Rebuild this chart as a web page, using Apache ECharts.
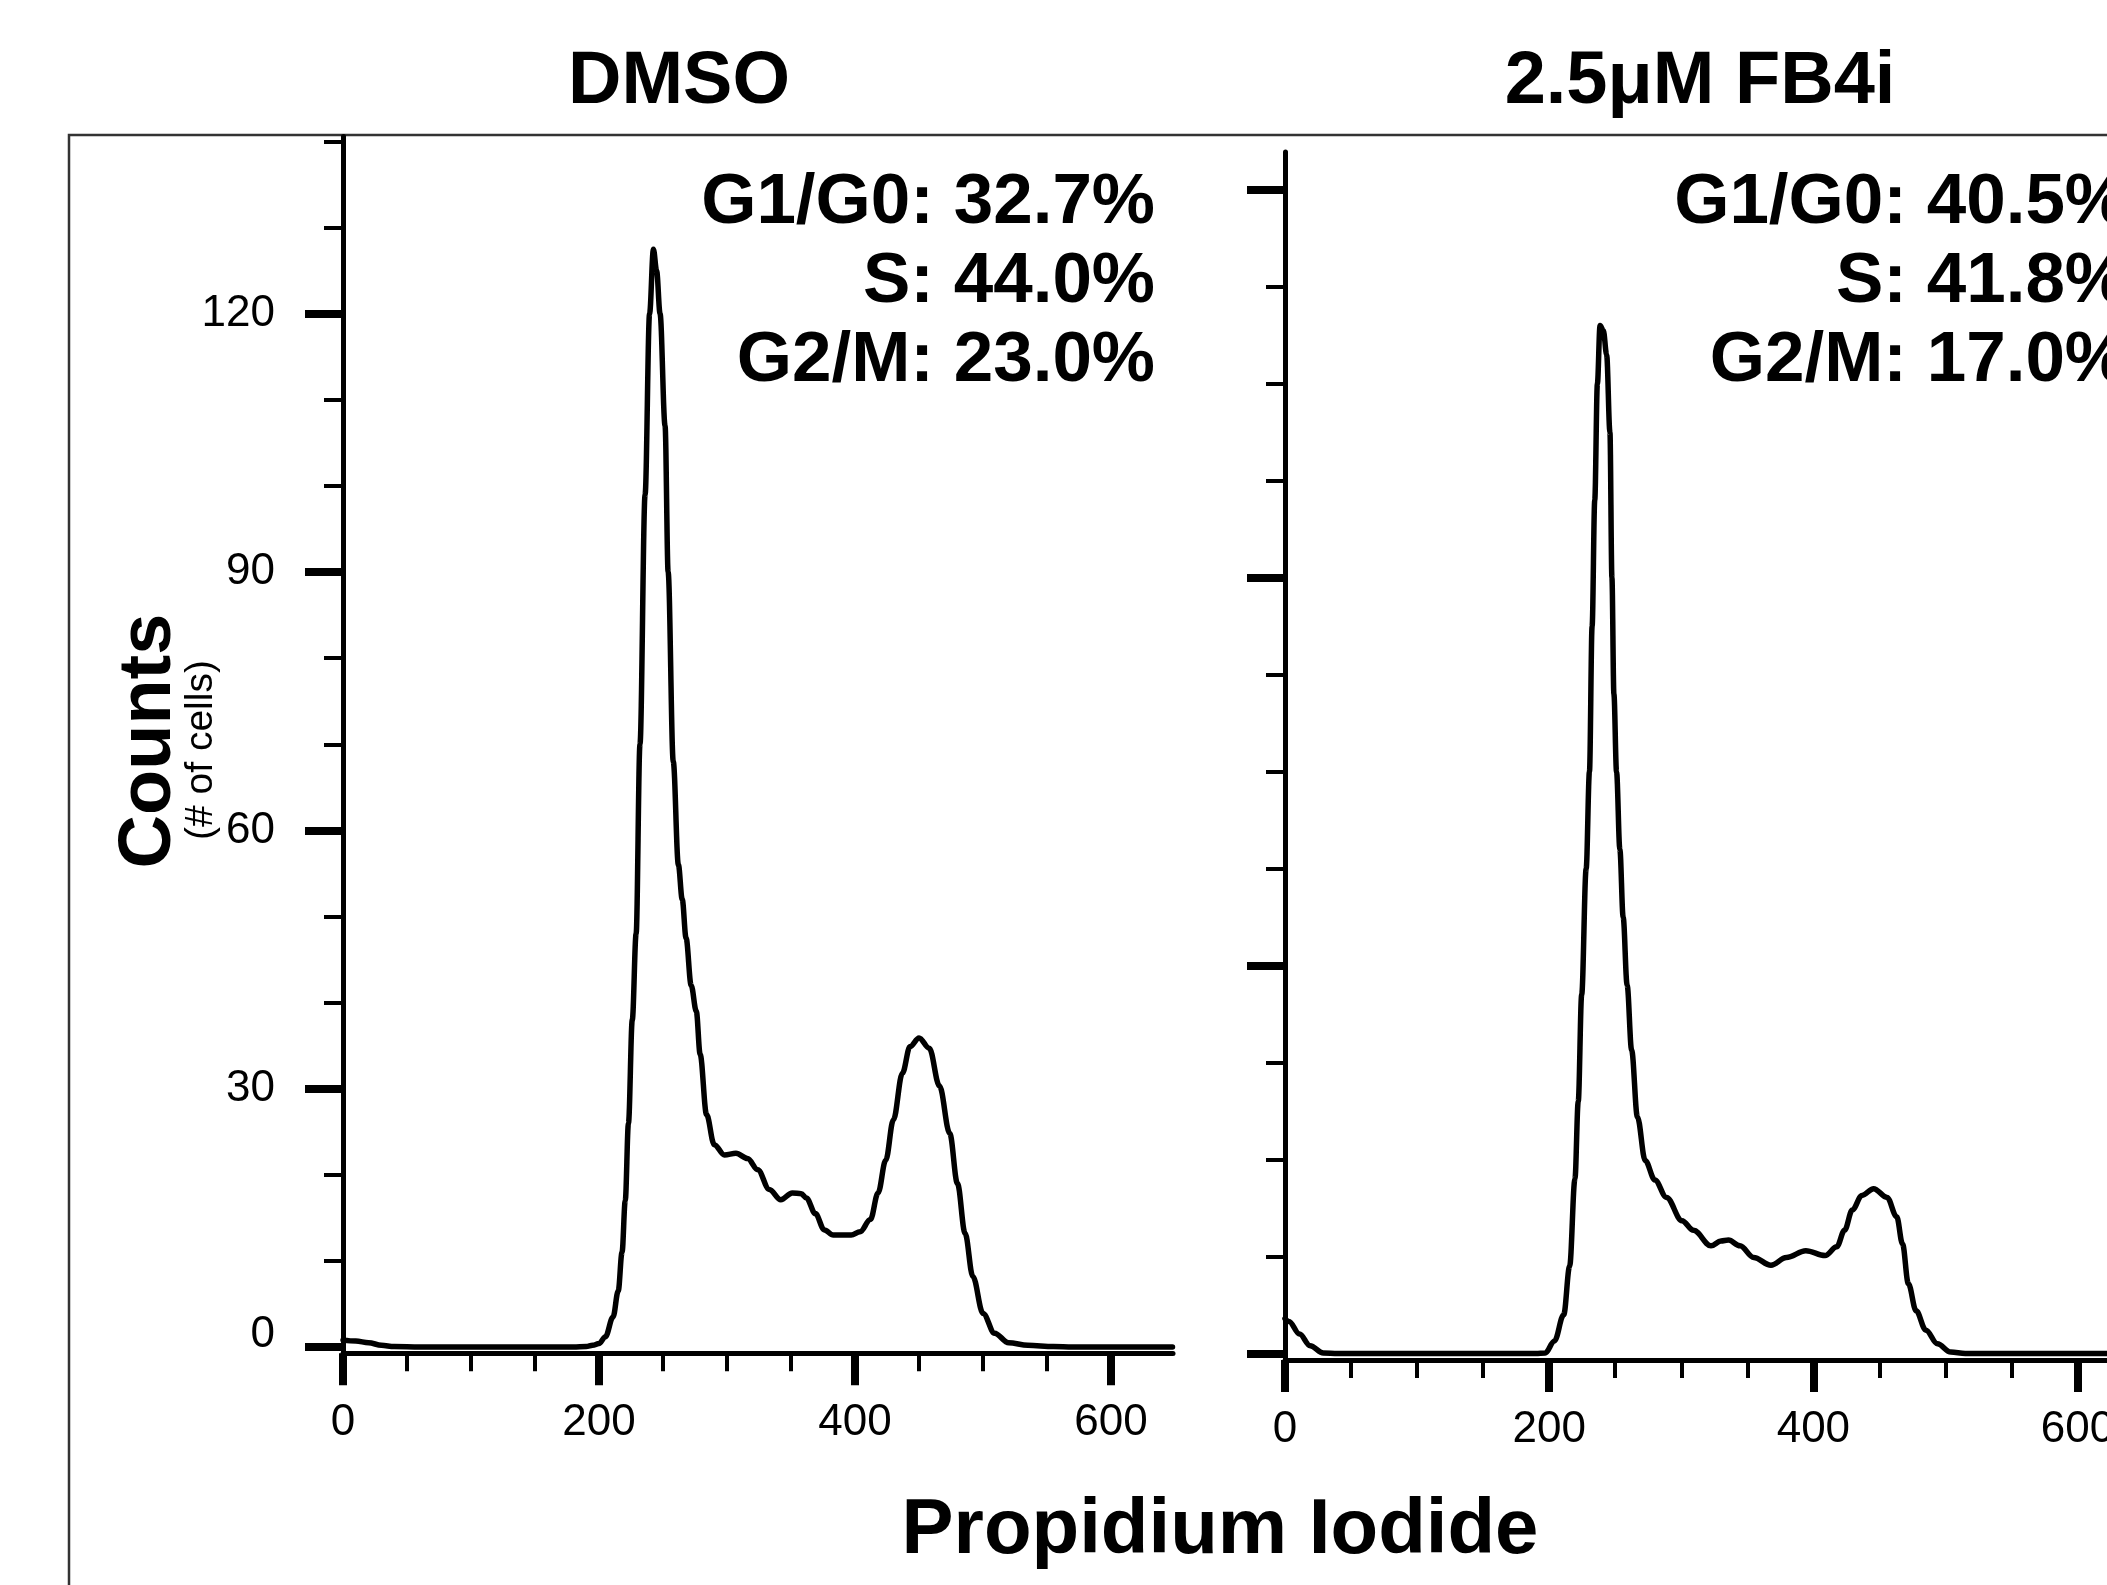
<!DOCTYPE html>
<html>
<head>
<meta charset="utf-8">
<script src="https://cdn.jsdelivr.net/npm/echarts@6/dist/echarts.min.js"></script>
<style>
  html, body { margin: 0; padding: 0; background: #fff; }
  #chart { width: 2107px; height: 1585px; }
</style>
</head>
<body>
<div id="chart"></div>
<script>
// DMSO histogram (propidium iodide channel vs counts)
var dmsoX = [0, 10, 20, 30, 40, 60, 100, 150, 180, 190, 195, 200, 205, 211, 215, 218, 220.5, 223, 226, 229, 232, 236, 239.5, 242.5,
  245, 247.7, 251.6, 254, 258, 262, 265, 268, 272, 276, 279, 284, 290, 298, 307, 316, 324, 333, 342, 351, 358, 362, 369, 376,
  383, 390, 397, 404, 412, 418, 424, 430, 437, 443, 450, 458, 466, 474, 480, 486, 492, 500, 509, 520, 535, 555, 570, 648];
var dmsoY = [0.8, 0.7, 0.5, 0.2, 0.05, 0, 0, 0, 0, 0.05, 0.2, 0.4, 1.2, 3.5, 6.5, 11, 17, 26, 38, 48, 70, 99, 120, 127.5,
  125, 120, 107, 90, 68, 56, 52, 47.5, 42, 39, 34, 27, 23.5, 22.3, 22.5, 21.9, 20.6, 18.3, 17.1, 17.9, 17.8, 17.3, 15.5, 13.6,
  13, 13, 13, 13.4, 14.8, 17.9, 21.7, 26.4, 31.8, 34.9, 35.9, 34.7, 30.3, 24.8, 19, 13.2, 8.2, 3.9, 1.6, 0.5, 0.2, 0.05, 0, 0];

// 2.5uM FB4i histogram
var fb4iX = [0, 3, 11, 19, 29, 40, 100, 190, 197, 204, 211, 215.5, 219.5, 222, 224.6, 228, 230.5, 232.5, 234.5, 236.5, 238.5,
  241, 243.5, 246, 247.5, 249, 251, 253.5, 256, 259, 262.4, 266.8, 272.7, 280, 288.8, 300.5, 309.3, 322.5, 330, 335.7, 344.5,
  354.8, 367.9, 379.6, 394.3, 408.9, 417.7, 423.6, 429.5, 436.8, 445.6, 455.8, 463.1, 467.5, 471.9, 477.8, 485.2, 493.9, 504, 515, 622];
var fb4iY = [3.6, 3.3, 2, 0.8, 0.05, 0, 0, 0, 0.05, 1.3, 4, 9, 18, 26, 37, 50, 60, 75, 88, 100, 106,
  105.5, 103, 95, 80, 68, 60, 52, 45, 38, 31.3, 24.4, 19.9, 17.9, 16.1, 13.7, 12.7, 11.1, 11.6, 11.7, 11.1,
  9.9, 9.1, 9.9, 10.6, 10.1, 11, 12.7, 14.8, 16.3, 17, 16.1, 14.1, 11.3, 7.2, 4.4, 2.4, 1, 0.15, 0, 0];

var panelTitles = ["DMSO", "2.5μM FB4i"];
var dmsoPhases = ["G1/G0: 32.7%", "S: 44.0%", "G2/M: 23.0%"];
var fb4iPhases = ["G1/G0: 40.5%", "S: 41.8%", "G2/M: 17.0%"];

var xMajor = [0, 200, 400, 600];
var xMinor = [50, 100, 150, 250, 300, 350, 450, 500, 550];
var dmsoYMajor = [0, 30, 60, 90, 120];
var dmsoYMinor = [10, 20, 40, 50, 70, 80, 100, 110, 130, 140];
var fb4iYMajor = [0, 40, 80, 120];
var fb4iYMinor = [10, 20, 30, 50, 60, 70, 90, 100, 110];

var FONT = '"Liberation Sans", Arial, sans-serif';

function pairs(xs, ys) {
  return xs.map(function (x, i) { return [x, ys[i]]; });
}

function majorX(grid, max) {
  return {
    gridIndex: grid, type: "value", min: 0, max: max, position: "bottom",
    splitLine: { show: false },
    axisLine: { onZero: false, lineStyle: { color: "#000", width: 5 } },
    axisTick: { customValues: xMajor, length: 32, lineStyle: { color: "#000", width: 8 } },
    axisLabel: { customValues: xMajor, color: "#000", fontSize: 44, fontFamily: FONT, margin: 48 },
  };
}
function minorX(grid, max) {
  return {
    gridIndex: grid, type: "value", min: 0, max: max, position: "bottom",
    splitLine: { show: false },
    axisLine: { show: false, onZero: false },
    axisTick: { customValues: xMinor, length: 18, lineStyle: { color: "#000", width: 4 } },
    axisLabel: { show: false },
  };
}
function majorY(grid, min, max, ticks, showLabels) {
  return {
    gridIndex: grid, type: "value", min: min, max: max, position: "left",
    splitLine: { show: false },
    axisLine: { onZero: false, lineStyle: { color: "#000", width: 5 } },
    axisTick: { customValues: ticks, length: 38, lineStyle: { color: "#000", width: 8 } },
    axisLabel: {
      show: showLabels, customValues: ticks, color: "#000", fontSize: 44, fontFamily: FONT, margin: 68,
      formatter: function (v) { return v === 0 ? "{z|0}" : String(v); },
      rich: { z: { fontSize: 44, fontFamily: FONT, color: "#000", padding: [0, 0, 24, 0] } },
    },
  };
}
function minorY(grid, min, max, ticks) {
  return {
    gridIndex: grid, type: "value", min: min, max: max, position: "left",
    splitLine: { show: false },
    axisLine: { show: false, onZero: false },
    axisTick: { customValues: ticks, length: 19, lineStyle: { color: "#000", width: 4 } },
    axisLabel: { show: false },
  };
}
function histSeries(idx, data) {
  return {
    type: "line", xAxisIndex: idx * 2, yAxisIndex: idx * 2, data: data,
    showSymbol: false, smooth: 0.35, smoothMonotone: "x",
    lineStyle: { width: 5.5, color: "#000", join: "round", cap: "round" },
  };
}
function textEl(text, x, y, size, align, extra) {
  var el = {
    type: "text", x: x, y: y, z: 10,
    style: { text: text, fill: "#000", fontSize: size, fontWeight: "bold", fontFamily: FONT, align: align, verticalAlign: "middle" },
  };
  return Object.assign(el, extra || {});
}

var graphics = [
  { type: "rect", z: -1, shape: { x: 69, y: 135, width: 2100, height: 1500 }, style: { fill: "none", stroke: "#333", lineWidth: 2.5 } },
  textEl(panelTitles[0], 679, 83, 74, "center"),
  textEl(panelTitles[1], 1700, 83, 74, "center"),
  textEl("Counts", 150, 741, 74, "center", { rotation: Math.PI / 2 }),
  textEl("(# of cells)", 201, 750, 39, "center", { rotation: Math.PI / 2, style: { text: "(# of cells)", fill: "#000", fontSize: 39, fontFamily: FONT, align: "center", verticalAlign: "middle" } }),
  textEl("Propidium Iodide", 1220, 1531, 78, "center"),
];
var lineYs = [203, 282, 361];
dmsoPhases.forEach(function (t, i) { graphics.push(textEl(t, 1155, lineYs[i], 71, "right")); });
fb4iPhases.forEach(function (t, i) { graphics.push(textEl(t, 2128, lineYs[i], 71, "right")); });

var option = {
  animation: false,
  backgroundColor: "#fff",
  textStyle: { fontFamily: FONT },
  grid: [
    { left: 343, top: 136.4, width: 830, height: 1216.9, outerBoundsMode: "none" },
    { left: 1285, top: 152, width: 822, height: 1208, outerBoundsMode: "none" },
  ],
  xAxis: [majorX(0, 648.4), minorX(0, 648.4), majorX(1, 622.3), minorX(1, 622.3)],
  yAxis: [
    majorY(0, -0.73, 140.6, dmsoYMajor, true), minorY(0, -0.73, 140.6, dmsoYMinor),
    majorY(1, -0.67, 123.9, fb4iYMajor, false), minorY(1, -0.67, 123.9, fb4iYMinor),
  ],
  visualMap: [
    { show: false, type: "piecewise", seriesIndex: 0, dimension: 1, pieces: [{ min: -0.5, max: 0.3, color: "#b4b4b4" }, { min: 0.3, max: 130, color: "#000" }] },
    { show: false, type: "piecewise", seriesIndex: 1, dimension: 1, pieces: [{ min: -0.5, max: 0.3, color: "#b4b4b4" }, { min: 0.3, max: 120, color: "#000" }] },
  ],
  series: [histSeries(0, pairs(dmsoX, dmsoY)), histSeries(1, pairs(fb4iX, fb4iY))],
  graphic: graphics,
};

var chart = echarts.init(document.getElementById("chart"));
chart.setOption(option);
window.onresize = function () { chart.resize(); };
</script>
</body>
</html>
